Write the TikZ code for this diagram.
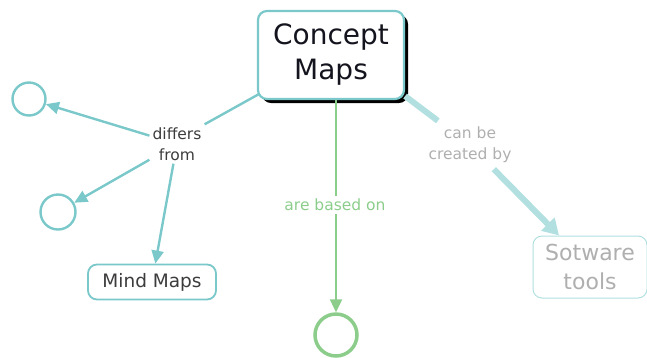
\documentclass[tikz,border=0pt]{standalone}
\usepackage{fontspec}
\setmainfont{DejaVu Sans}
\usetikzlibrary{shadows,arrows.meta}
\definecolor{tealline}{RGB}{122,200,201}
\definecolor{paleteal}{RGB}{178,224,224}
\definecolor{palegreen}{RGB}{140,205,140}
\definecolor{darktext}{RGB}{20,20,30}
\definecolor{midtext}{RGB}{60,60,60}
\definecolor{paletext}{RGB}{175,175,175}
\tikzset{
  concept/.style={draw=tealline,line width=2.2pt,rounded corners=9pt,fill=white,align=center,text=darktext},
  linking/.style={align=center,inner sep=3pt},
  blank/.style={circle,draw=tealline,line width=2.4pt,minimum size=33pt,inner sep=0pt},
  link/.style={draw=tealline,line width=2.4pt},
  tip/.style={-{Triangle[length=13pt,width=12pt]}}
}
\begin{document}
\begin{tikzpicture}[x=1pt,y=-1pt]
  \useasboundingbox (0,0) rectangle (647,357);
  % concepts
  \node[concept,minimum width=146pt,minimum height=88pt,
        drop shadow={black,opacity=1,shadow xshift=4pt,shadow yshift=-4pt},
        font=\fontsize{28}{35}\selectfont] (cmap) at (331,55) {Concept\\Maps};
  \node[concept,line width=1.8pt,minimum width=128pt,minimum height=35pt,
        font=\fontsize{18.5}{22}\selectfont,text=midtext] (mind) at (152,282) {Mind Maps};
  \node[concept,draw=paleteal,line width=1pt,minimum width=114pt,minimum height=62pt,
        font=\fontsize{22}{29}\selectfont,text=paletext] (tools) at (590,267) {Sotware\\tools};
  \node[blank] (c1) at (29,99) {};
  \node[blank,minimum size=35pt] (c2) at (58,212) {};
  \node[blank,draw=palegreen,line width=3.5pt,minimum size=42pt] (c3) at (336,335) {};
  % linking phrases
  \node[linking,text=midtext,font=\fontsize{15.5}{21}\selectfont] (differs) at (177,144) {differs\\from};
  \node[linking,text=palegreen,font=\fontsize{15.5}{19}\selectfont] (based) at (335,205) {are based on};
  \node[linking,text=paletext,font=\fontsize{15.5}{21}\selectfont,inner sep=6pt] (created) at (470,145) {can be\\created by};
  \coordinate (bstart) at (cmap.south -| c3);
  % connectors
  \draw[link] (cmap.south west) ++(2pt,6pt) -- (differs.north east);
  \draw[link,tip] (differs) -- (c1);
  \draw[link,tip] (differs) -- (c2);
  \draw[link,tip] (differs) -- (mind);
  \draw[draw=palegreen,line width=2.4pt] (bstart) -- (based.north -| c3);
  \draw[draw=palegreen,line width=2.4pt,-{Triangle[length=13pt,width=12pt]}] (based.south -| c3) -- (c3);
  \draw[draw=paleteal,line width=6pt] (cmap.south east) ++(0,4pt) -- (created);
  \draw[draw=paleteal,line width=6pt,-{Triangle[length=16pt,width=18pt]}] (created) -- (tools);
\end{tikzpicture}
\end{document}
